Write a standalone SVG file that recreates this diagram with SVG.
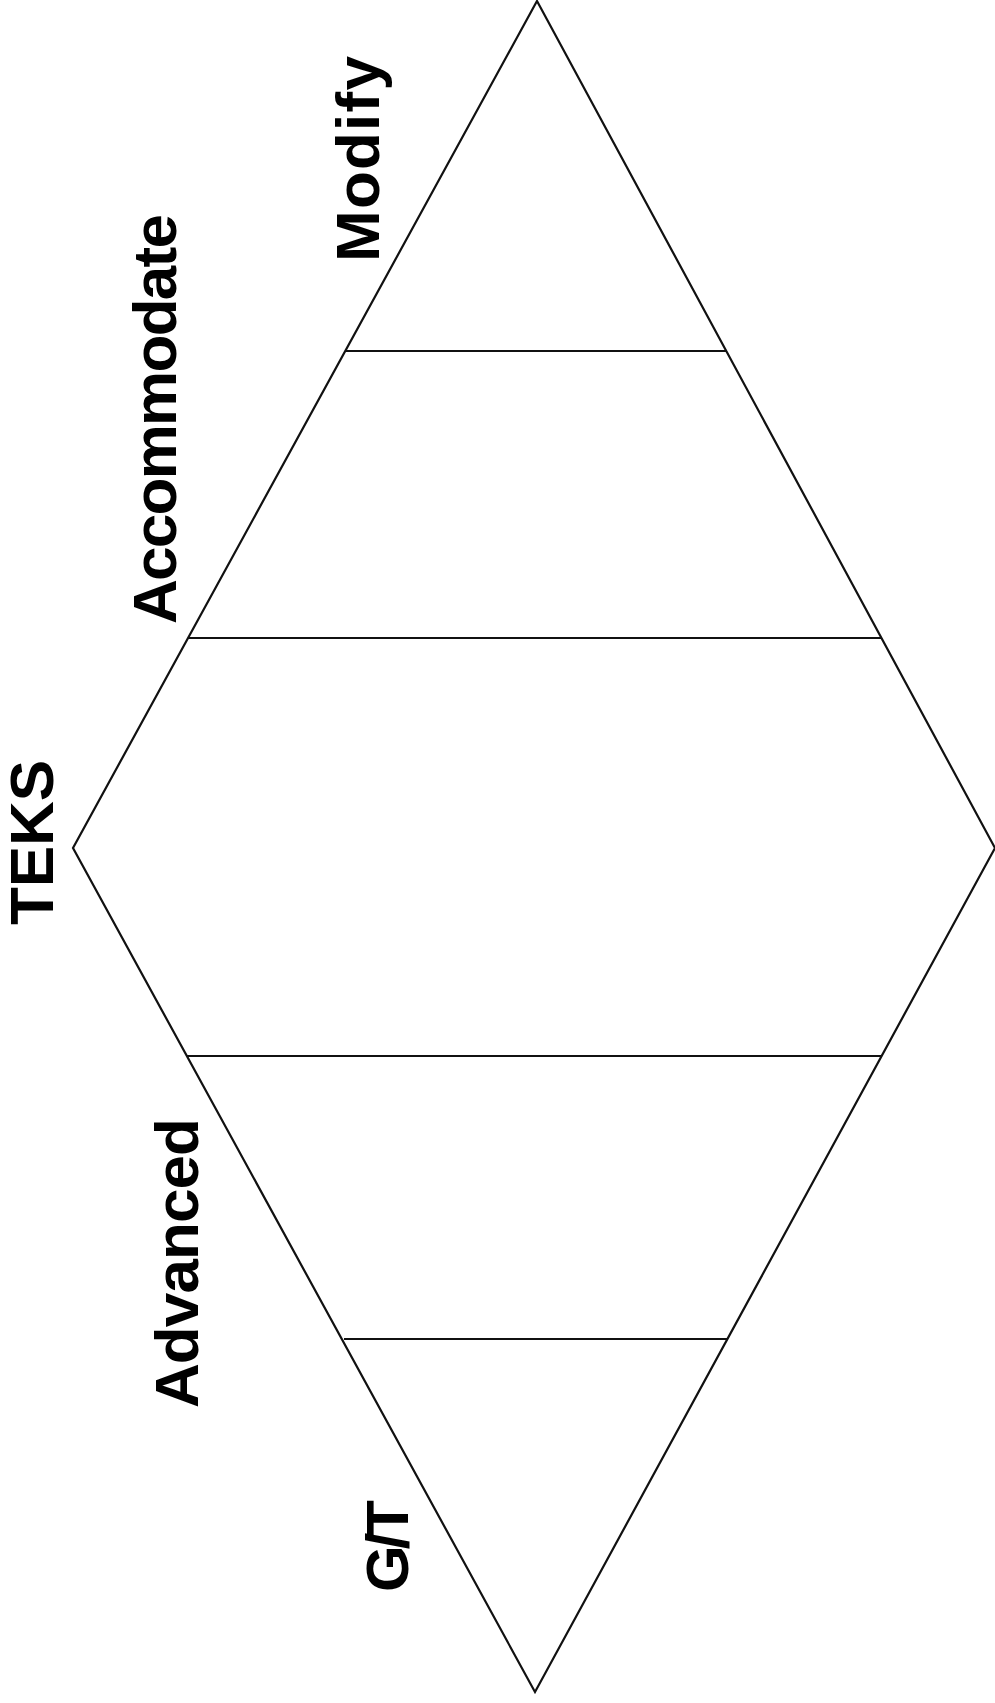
<svg xmlns="http://www.w3.org/2000/svg" width="995" height="1703" viewBox="0 0 995 1703">
<style>
.edge{fill:none;stroke:#111;stroke-width:2.2;stroke-linejoin:miter}
.lbl{font-family:"Liberation Sans",Arial,sans-serif;font-weight:bold;font-size:62px;fill:#000}
</style>
<rect width="995" height="1703" fill="#fff"/>
<g id="diamond">
<polygon class="edge" points="537,1 995,848 535,1692 73,848"/>
</g>
<g id="connectors">
<line class="edge" x1="345" y1="351" x2="726" y2="351"/>
<line class="edge" x1="188" y1="638" x2="881" y2="638"/>
<line class="edge" x1="187" y1="1056" x2="882" y2="1056"/>
<line class="edge" x1="344" y1="1339" x2="727" y2="1339"/>
</g>
<g id="label-modify"><text class="lbl" transform="translate(379,262) rotate(-90)" textLength="206">Modify</text></g>
<g id="label-accommodate"><text class="lbl" transform="translate(176,624) rotate(-90)" textLength="410">Accommodate</text></g>
<g id="label-teks"><text class="lbl" transform="translate(53,925) rotate(-90)" textLength="165">TEKS</text></g>
<g id="label-advanced"><text class="lbl" transform="translate(198,1408) rotate(-90)" textLength="290">Advanced</text></g>
<g id="label-gt"><text class="lbl" transform="translate(408,1592) rotate(-90)" style="font-size:60px" textLength="92">G/T</text></g>
</svg>
